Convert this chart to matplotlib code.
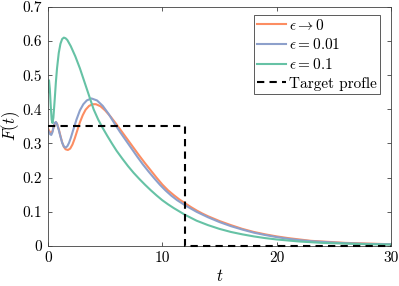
import matplotlib
matplotlib.use("Agg")
import matplotlib.pyplot as plt
from matplotlib.ticker import FormatStrFormatter

plt.rcParams['font.family'] = 'serif'
plt.rcParams['font.serif'] = ['cmr10']
plt.rcParams['mathtext.fontset'] = 'cm'
plt.rcParams['axes.formatter.use_mathtext'] = True

# valores
t_zero = [0, 0.1, 0.2, 0.3, 0.4, 0.5, 0.6, 0.7, 0.8, 0.95, 1.1, 1.25, 1.4, 1.55,
          1.75, 1.95, 2.15, 2.35, 2.55, 2.8, 3.05, 3.3, 3.6, 3.9, 4.2, 4.6, 5.0,
          5.5, 6.0, 6.5, 7.0, 7.5, 8.0, 8.5, 9.0, 9.5, 10.0, 10.5, 11.0, 11.5,
          12.0, 12.5, 13.0, 13.5, 14, 15, 16, 17, 18, 19, 20, 21, 22, 23, 24,
          25, 26, 27, 28, 29, 30]
F_zero = [0.345, 0.338, 0.332, 0.33, 0.336, 0.348, 0.358, 0.362, 0.358, 0.342,
          0.322, 0.303, 0.29, 0.283, 0.281, 0.285, 0.297, 0.315, 0.336, 0.362,
          0.383, 0.399, 0.41, 0.415, 0.415, 0.409, 0.397, 0.378, 0.356, 0.333,
          0.31, 0.287, 0.264, 0.242, 0.221, 0.200, 0.180, 0.163, 0.149, 0.136,
          0.125, 0.114, 0.104, 0.095, 0.087, 0.073, 0.061, 0.050, 0.041, 0.034,
          0.028, 0.023, 0.019, 0.015, 0.013, 0.011, 0.009, 0.008, 0.007, 0.006,
          0.005]

t_001 = [0, 0.1, 0.2, 0.3, 0.4, 0.5, 0.6, 0.7, 0.8, 0.95, 1.1, 1.25, 1.4, 1.55,
         1.7, 1.85, 2.0, 2.2, 2.5, 2.8, 3.1, 3.4, 3.8, 4.3, 4.8, 5.3, 5.8, 6.3,
         6.8, 7.3, 7.8, 8.3, 8.8, 9.3, 9.8, 10.3, 10.8, 11.3, 12, 13, 14, 15, 16,
         17, 18, 19, 20, 21, 22, 23, 24, 25, 26, 27, 28, 29, 30]
F_001 = [0.34, 0.333, 0.327, 0.325, 0.333, 0.348, 0.36, 0.363, 0.357, 0.34, 0.32,
         0.302, 0.291, 0.288, 0.292, 0.302, 0.316, 0.338, 0.37, 0.397, 0.415,
         0.426, 0.432, 0.426, 0.41, 0.387, 0.36, 0.334, 0.31, 0.286, 0.262, 0.239,
         0.218, 0.198, 0.179, 0.162, 0.147, 0.134, 0.119, 0.1, 0.084, 0.07, 0.058,
         0.048, 0.039, 0.032, 0.026, 0.021, 0.017, 0.014, 0.012, 0.010, 0.008,
         0.007, 0.006, 0.0055, 0.005]

t_01 = [0, 0.05, 0.1, 0.17, 0.25, 0.33, 0.4, 0.48, 0.6, 0.7, 0.8, 0.95, 1.1, 1.25,
        1.4, 1.55, 1.7, 2.0, 2.4, 2.8, 3.2, 3.6, 4.0, 4.4, 4.8, 5.2, 5.6, 6.0,
        6.5, 7.0, 7.5, 8.0, 8.5, 9.0, 9.5, 10.0, 10.5, 11.0, 11.5, 12, 13, 14, 15,
        16, 17, 18, 19, 20, 21, 22, 23, 24, 25, 26, 27, 28, 29, 30]
F_01 = [0.45, 0.475, 0.485, 0.46, 0.41, 0.37, 0.36, 0.375, 0.43, 0.48, 0.52, 0.565,
        0.592, 0.606, 0.61, 0.608, 0.603, 0.585, 0.555, 0.52, 0.48, 0.44, 0.40,
        0.37, 0.345, 0.322, 0.30, 0.279, 0.256, 0.234, 0.214, 0.196, 0.179, 0.163,
        0.148, 0.134, 0.122, 0.111, 0.101, 0.091, 0.074, 0.061, 0.05, 0.041, 0.034,
        0.028, 0.023, 0.019, 0.016, 0.013, 0.011, 0.009, 0.008, 0.007, 0.006,
        0.005, 0.0045, 0.004]

t_alvo = [0, 12, 12, 30]
F_alvo = [0.35, 0.35, 0, 0]

fig = plt.figure(figsize=(3.99, 2.86), dpi=100)
ax = fig.add_axes([0.12, 0.14, 0.86, 0.836])

ax.plot(t_zero, F_zero, color='#fc8d62', lw=1.5, label=r'$\epsilon \to 0$')
ax.plot(t_001, F_001, color='#8da0cb', lw=1.5, label=r'$\epsilon = 0.01$')
ax.plot(t_01, F_01, color='#66c2a5', lw=1.5, label=r'$\epsilon = 0.1$')
ax.plot(t_alvo, F_alvo, color='black', lw=1.5, ls=(0, (3.5, 2.5)),
        label='Target profle', clip_on=False, zorder=5)

ax.set_xlim(0, 30)
ax.set_ylim(0, 0.7)
ax.set_xticks([0, 10, 20, 30])
ax.set_yticks([0, 0.1, 0.2, 0.3, 0.4, 0.5, 0.6, 0.7])
ax.yaxis.set_major_formatter(FormatStrFormatter('%g'))
ax.xaxis.set_major_formatter(FormatStrFormatter('%g'))
ax.tick_params(direction='in', top=True, right=True, length=3, width=0.6,
               color='#404040', labelsize=11, pad=4)
for s in ax.spines.values():
    s.set_color('#404040')
    s.set_linewidth(0.6)

ax.set_xlabel(r'$t$', fontsize=12, labelpad=2)
ax.set_ylabel(r'$F(t)$', fontsize=12)
ax.yaxis.set_label_coords(-0.075, 0.5)

leg = ax.legend(loc='upper right', bbox_to_anchor=(0.968, 0.967), borderaxespad=0,
                fontsize=11, handlelength=1.9, handletextpad=0.2, labelspacing=0.3,
                borderpad=0.2, fancybox=False, framealpha=1)
leg.get_frame().set_edgecolor('#404040')
leg.get_frame().set_linewidth(0.6)

fig.savefig('out.png', dpi=100)
